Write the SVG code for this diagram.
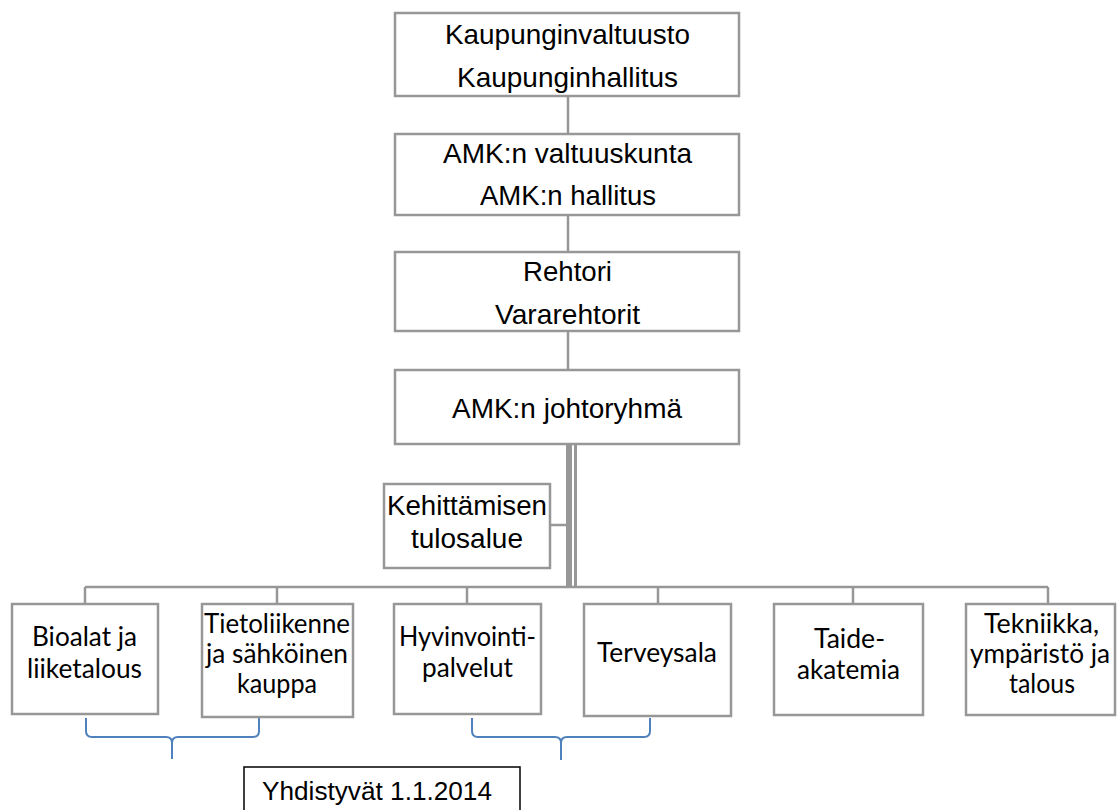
<svg xmlns="http://www.w3.org/2000/svg" width="1117" height="810" viewBox="0 0 1117 810">
<style>
.box{fill:#fff;stroke:#979797;stroke-width:2.5}
.note{fill:#fff;stroke:#000;stroke-width:1.5}
.line{stroke:#979797;stroke-width:2.5;fill:none}
.brace{stroke:#4f81bd;stroke-width:2;fill:none}
.a{font-family:"Liberation Sans",Arial,sans-serif;font-size:27.5px;fill:#000}
.c{font-family:Lato,"Open Sans",sans-serif;font-size:26px;fill:#000}
</style>
<rect width="1117" height="810" fill="#fff"/>
<g id="connectors">
<line class="line" x1="568" y1="96" x2="568" y2="134"/>
<line class="line" x1="568" y1="215" x2="568" y2="252"/>
<line class="line" x1="568" y1="331" x2="568" y2="370"/>
<rect x="566" y="444" width="6" height="144" fill="#979797"/>
<rect x="574" y="444" width="3" height="144" fill="#979797"/>
<line class="line" x1="550" y1="525" x2="566" y2="525"/>
<line class="line" x1="85" y1="587" x2="1048" y2="587"/>
<line class="line" x1="85" y1="587" x2="85" y2="604"/>
<line class="line" x1="277" y1="587" x2="277" y2="604"/>
<line class="line" x1="467" y1="587" x2="467" y2="604"/>
<line class="line" x1="658" y1="587" x2="658" y2="604"/>
<line class="line" x1="853" y1="587" x2="853" y2="604"/>
<line class="line" x1="1048" y1="587" x2="1048" y2="604"/>
<path class="brace" d="M86,718 L86,731 Q86,737 92,737 L166,737 Q172,737 172,743 L172,759 M172,743 Q172,737 178,737 L253,737 Q259,737 259,731 L259,718"/>
<path class="brace" d="M472,718 L472,731 Q472,737 478,737 L555,737 Q561,737 561,743 L561,760 M561,743 Q561,737 567,737 L644,737 Q650,737 650,731 L650,718"/>
</g>
<g id="n1"><rect class="box" x="395" y="13" width="344" height="83"/>
<text class="a" x="445" y="44" textLength="245" lengthAdjust="spacingAndGlyphs">Kaupunginvaltuusto</text>
<text class="a" x="457" y="87" textLength="221" lengthAdjust="spacingAndGlyphs">Kaupunginhallitus</text></g>
<g id="n2"><rect class="box" x="395" y="134" width="344" height="81"/>
<text class="a" x="443" y="163" textLength="249" lengthAdjust="spacingAndGlyphs">AMK:n valtuuskunta</text>
<text class="a" x="480" y="205" textLength="176" lengthAdjust="spacingAndGlyphs">AMK:n hallitus</text></g>
<g id="n3"><rect class="box" x="395" y="252" width="344" height="79"/>
<text class="a" x="523" y="281" textLength="89" lengthAdjust="spacingAndGlyphs">Rehtori</text>
<text class="a" x="495" y="324" textLength="145" lengthAdjust="spacingAndGlyphs">Vararehtorit</text></g>
<g id="n4"><rect class="box" x="395" y="370" width="344" height="74"/>
<text class="a" x="452" y="418" textLength="230" lengthAdjust="spacingAndGlyphs">AMK:n johtoryhmä</text></g>
<g id="n5"><rect class="box" x="384" y="484" width="166" height="84"/>
<text class="a" x="387" y="515" textLength="160" lengthAdjust="spacingAndGlyphs">Kehittämisen</text>
<text class="a" x="411" y="548" textLength="112" lengthAdjust="spacingAndGlyphs">tulosalue</text></g>
<g id="b1"><rect class="box" x="12" y="604" width="146" height="110"/>
<text class="c" x="32" y="646" textLength="105" lengthAdjust="spacingAndGlyphs">Bioalat ja</text>
<text class="c" x="27" y="678" textLength="115" lengthAdjust="spacingAndGlyphs">liiketalous</text></g>
<g id="b2"><rect class="box" x="202" y="604" width="151" height="113"/>
<text class="c" x="204" y="633" textLength="146" lengthAdjust="spacingAndGlyphs">Tietoliikenne</text>
<text class="c" x="206" y="663" textLength="142" lengthAdjust="spacingAndGlyphs">ja sähköinen</text>
<text class="c" x="237" y="693" textLength="80" lengthAdjust="spacingAndGlyphs">kauppa</text></g>
<g id="b3"><rect class="box" x="394" y="604" width="147" height="110"/>
<text class="c" x="399" y="646" textLength="137" lengthAdjust="spacingAndGlyphs">Hyvinvointi-</text>
<text class="c" x="422" y="677" textLength="91" lengthAdjust="spacingAndGlyphs">palvelut</text></g>
<g id="b4"><rect class="box" x="584" y="604" width="147" height="112"/>
<text class="c" x="597" y="662" textLength="120" lengthAdjust="spacingAndGlyphs">Terveysala</text></g>
<g id="b5"><rect class="box" x="774" y="604" width="149" height="111"/>
<text class="c" x="814" y="648" textLength="71" lengthAdjust="spacingAndGlyphs">Taide-</text>
<text class="c" x="797" y="679" textLength="103" lengthAdjust="spacingAndGlyphs">akatemia</text></g>
<g id="b6"><rect class="box" x="966" y="604" width="149" height="111"/>
<text class="c" x="984" y="633" textLength="115" lengthAdjust="spacingAndGlyphs">Tekniikka,</text>
<text class="c" x="970" y="663" textLength="140" lengthAdjust="spacingAndGlyphs">ympäristö ja</text>
<text class="c" x="1009" y="693" textLength="66" lengthAdjust="spacingAndGlyphs">talous</text></g>
<g id="note"><rect class="note" x="244" y="767" width="276" height="60"/>
<text class="a" style="font-size:26px" x="262" y="800" textLength="230" lengthAdjust="spacingAndGlyphs">Yhdistyvät 1.1.2014</text></g>
</svg>
